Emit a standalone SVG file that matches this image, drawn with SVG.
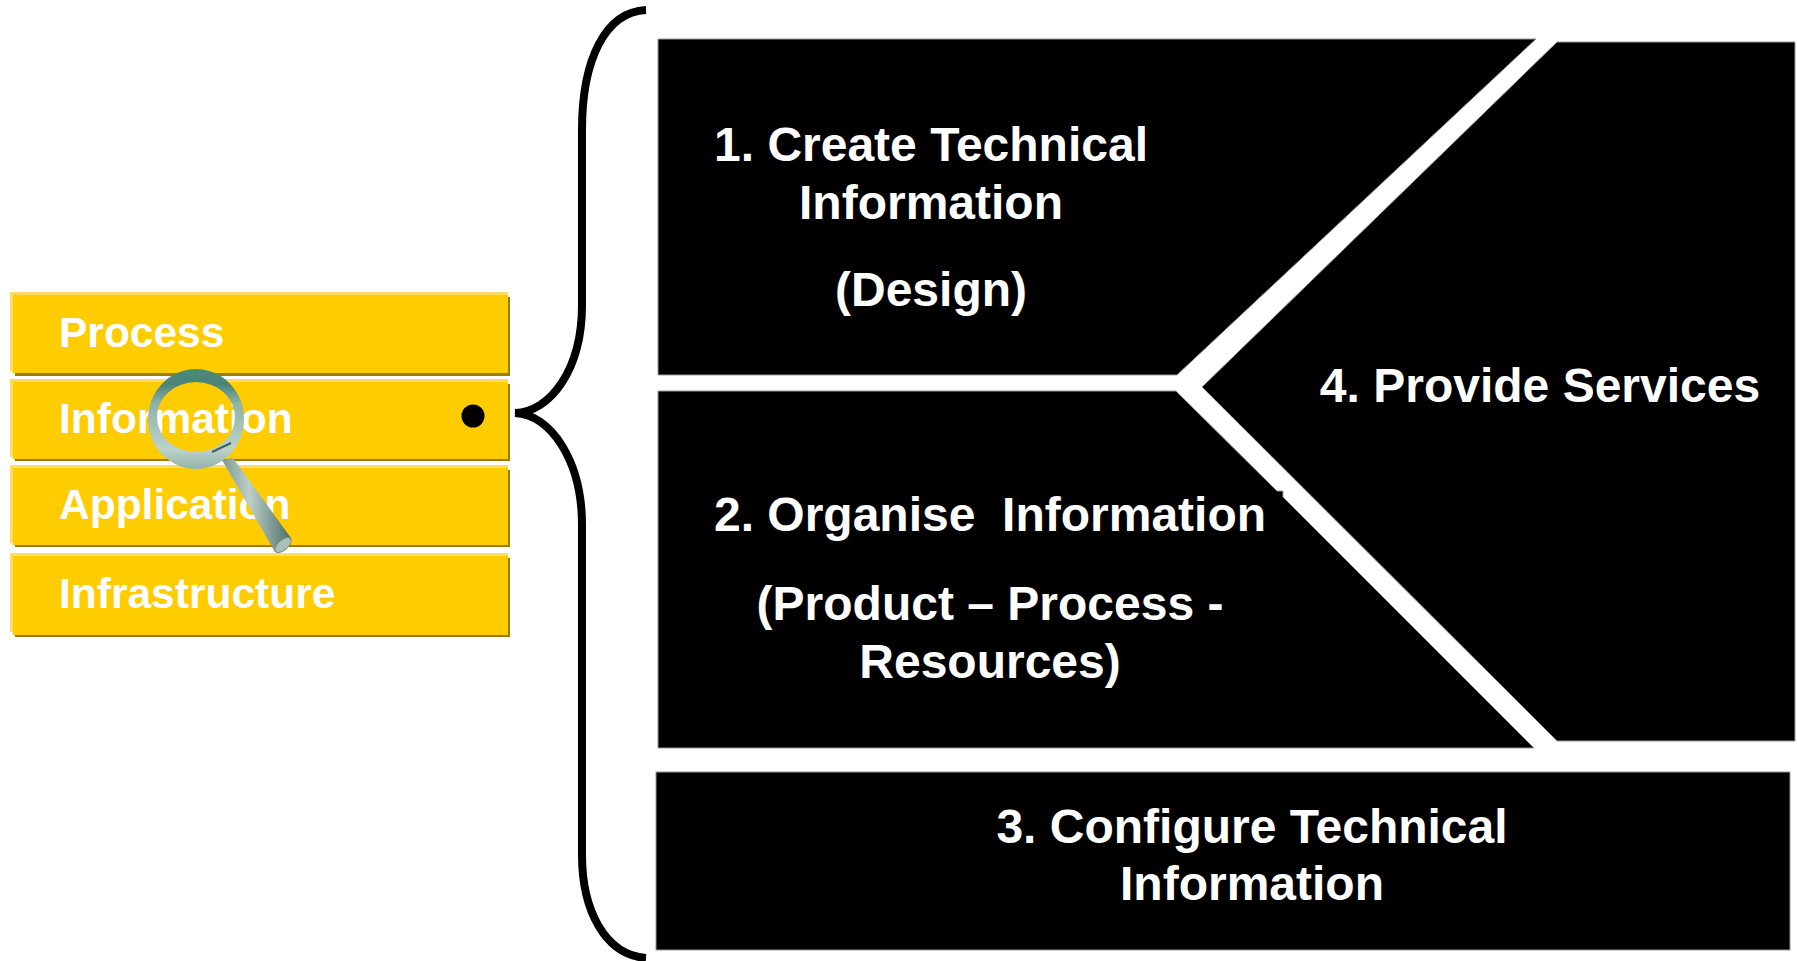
<svg xmlns="http://www.w3.org/2000/svg" width="1797" height="961" viewBox="0 0 1797 961">
<style>
text{font-family:"Liberation Sans",Arial,sans-serif;font-weight:700;fill:#fff;white-space:pre}
.big{font-size:48px;text-anchor:middle}
.small{font-size:42.5px}
.blk{fill:#000;stroke:#999;stroke-width:1}
.sh{fill:#9c7c00}.hi{fill:#ffdb66}.bar{fill:#ffcc00}
</style>
<defs>
<linearGradient id="ring" x1="0" y1="0" x2="0" y2="1"><stop offset="0" stop-color="#4a8a7a"/><stop offset=".15" stop-color="#4a8476"/><stop offset=".35" stop-color="#8fb3a8"/><stop offset=".8" stop-color="#bcd2ca"/><stop offset="1" stop-color="#93b3a9"/></linearGradient>
<linearGradient id="handle" x1="0" y1="0" x2="1" y2="0"><stop offset="0" stop-color="#7c9a91"/><stop offset=".4" stop-color="#bccfc8"/><stop offset="1" stop-color="#4e6e65"/></linearGradient>
</defs>
<rect width="1797" height="961" fill="#fff"/>
<g id="bar-process"><rect class="sh" x="15" y="297" width="495" height="79"/><rect class="hi" x="10" y="292" width="498" height="79"/><rect class="bar" x="13" y="295" width="495" height="78"/><text class="small" x="59" y="347">Process</text></g>
<g id="bar-information"><rect class="sh" x="15" y="384" width="495" height="77"/><rect class="hi" x="10" y="379" width="498" height="78"/><rect class="bar" x="13" y="382" width="495" height="77"/><text class="small" x="59" y="433">Information</text><circle cx="473" cy="416" r="11.5" fill="#000"/></g>
<g id="bar-application"><rect class="sh" x="15" y="470" width="495" height="77"/><rect class="hi" x="10" y="465" width="498" height="78"/><rect class="bar" x="13" y="468" width="495" height="77"/><text class="small" x="59" y="519">Application</text></g>
<g id="bar-infrastructure"><rect class="sh" x="15" y="558" width="495" height="79"/><rect class="hi" x="10" y="553" width="498" height="79"/><rect class="bar" x="13" y="556" width="495" height="79"/><text class="small" x="59" y="608">Infrastructure</text></g>
<g id="magnifier">
<path d="M222 460L233 458L291 538L275 552Z" fill="url(#handle)"/>
<ellipse cx="283" cy="545" rx="10" ry="5" transform="rotate(-40 283 545)" fill="#a8c0b8" stroke="#6f8f86"/>
<path fill-rule="evenodd" fill="url(#ring)" d="M148 419a48 50 0 1 0 96 0a48 50 0 1 0 -96 0Z M157 417a39 35 0 1 1 78 0a39 35 0 1 1 -78 0Z"/>
<path d="M212 452L231 443" stroke="#44605a" stroke-width="2" fill="none"/>
</g>
<g id="connectors"><path d="M646 10C605 12 582 60 582 130V305C582 370 550 412 515 413C550 414 582 460 582 525V855C582 910 605 955 646 958" fill="none" stroke="#000" stroke-width="8"/></g>
<g id="box-1"><path class="blk" d="M658 39H1536L1177 375H658Z"/><text class="big" x="931" y="161">1. Create Technical</text><text class="big" x="931" y="219">Information</text><text class="big" x="931" y="306">(Design)</text></g>
<g id="box-2"><path class="blk" d="M658 391H1176L1277 491L1283 491L1283 497L1534 748H658Z"/><text class="big" x="990" y="531">2. Organise  Information</text><text class="big" x="990" y="620">(Product – Process -</text><text class="big" x="990" y="678">Resources)</text></g>
<g id="box-3"><rect class="blk" x="656" y="772" width="1134" height="178"/><text class="big" x="1252" y="843">3. Configure Technical</text><text class="big" x="1252" y="900">Information</text></g>
<g id="box-4"><path class="blk" d="M1557 42H1795V741H1557L1202 387Z"/><text class="big" x="1540" y="402">4. Provide Services</text></g>
</svg>
